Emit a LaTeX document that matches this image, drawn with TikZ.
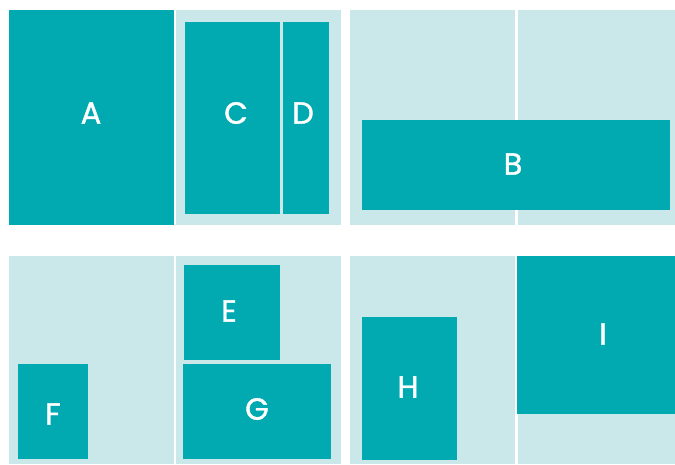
\documentclass[tikz,border=0pt]{standalone}
\usepackage{fontspec}
\setmainfont{Poppins}[FakeBold=1.2]
\definecolor{teal}{RGB}{0,170,176}
\definecolor{light}{RGB}{202,232,234}
\begin{document}
\begin{tikzpicture}[x=1pt,y=-1pt,
  bg/.style={fill=light},
  blk/.style={fill=teal},
  lbl/.style={text=white,inner sep=0pt,font=\fontsize{30.5}{30.5}\selectfont}]
\useasboundingbox (0,0) rectangle (675,464);
\fill[white] (0,0) rectangle (675,464);
% panel 1
\fill[bg] (176,10) rectangle (341,225);
\fill[blk] (9,10) rectangle (174,225);
\fill[blk] (185,22) rectangle (280,214);
\fill[blk] (283,22) rectangle (329,214);
% panel 2
\fill[bg] (350,10) rectangle (515,225);
\fill[bg] (517.5,10) rectangle (675,225);
\fill[blk] (362,120) rectangle (670,210);
% panel 3
\fill[bg] (9,256) rectangle (174,464);
\fill[bg] (176,256) rectangle (341,464);
\fill[blk] (184,265) rectangle (280,360);
\fill[blk] (18,364) rectangle (88,459);
\fill[blk] (183,364) rectangle (331,459);
% panel 4
\fill[bg] (350,256) rectangle (515,464);
\fill[bg] (517.5,256) rectangle (675,464);
\fill[blk] (362,317) rectangle (457,460);
\fill[blk] (517,256) rectangle (675,414);
% labels
\node[lbl] (la) at (91,113) {A};
\node[lbl] (lc) at (236,113) {C};
\node[lbl] (ld) at (303,113) {D};
\node[lbl] (lb) at (513,164) {B};
\node[lbl] (le) at (229,311) {E};
\node[lbl] (lf) at (53,414) {F};
\node[lbl] (lg) at (257,409) {G};
\node[lbl] (lh) at (408,387) {H};
\node[lbl] (li) at (603,334) {I};
\end{tikzpicture}
\end{document}
